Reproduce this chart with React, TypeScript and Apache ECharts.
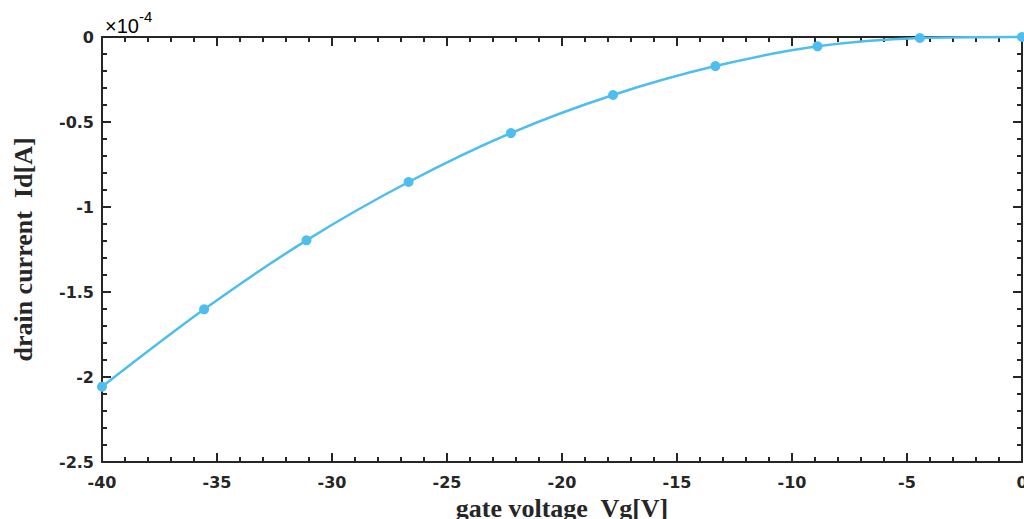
import React, { useEffect, useRef } from "react";
import * as echarts from "echarts";

// Gate voltage sweep (V) and measured drain current (units of 1e-4 A)
const gateVoltage = [-40, -35.56, -31.11, -26.67, -22.22, -17.78, -13.33, -8.89, -4.44, 0];
const drainCurrent = [-2.057, -1.602, -1.196, -0.853, -0.565, -0.341, -0.171, -0.055, -0.006, 0];

const xTicks = [-40, -35, -30, -25, -20, -15, -10, -5, 0];
const yTicks = [-2.5, -2, -1.5, -1, -0.5, 0];

const axisColor = "#262626";
const lineColor = "#4DBEEE";

export default function App() {
  const ref = useRef<HTMLDivElement>(null);

  useEffect(() => {
    if (!ref.current) return;
    const chart = echarts.init(ref.current, null, { renderer: "svg" });

    const tickFont = {
      fontFamily: "DejaVu Sans",
      fontWeight: "bold" as const,
      fontSize: 16,
      color: axisColor,
    };

    const baseAxis = {
      axisLine: { show: true, onZero: false, lineStyle: { color: axisColor, width: 2 } },
      axisTick: { show: true, inside: true, length: 9, lineStyle: { color: axisColor, width: 2 } },
      minorTick: { show: true, splitNumber: 5, length: 5, lineStyle: { color: axisColor, width: 2 } },
      splitLine: { show: false },
    };

    chart.setOption({
      animation: false,
      backgroundColor: "#ffffff",
      grid: {
        left: 102,
        right: 2,
        top: 37,
        bottom: 57,
        containLabel: false,
        outerBoundsMode: "none",
      },
      xAxis: [
        {
          type: "value",
          min: xTicks[0],
          max: xTicks[xTicks.length - 1],
          interval: 5,
          ...baseAxis,
          axisLabel: { ...tickFont, margin: 12 },
          name: "gate voltage  Vg[V]",
          nameLocation: "middle",
          nameGap: 33,
          nameTextStyle: {
            fontFamily: "Liberation Serif",
            fontWeight: "bold",
            fontSize: 26,
            color: axisColor,
          },
        },
        {
          type: "value",
          position: "top",
          min: xTicks[0],
          max: xTicks[xTicks.length - 1],
          interval: 5,
          ...baseAxis,
          axisLabel: { show: false },
        },
      ],
      yAxis: [
        {
          type: "value",
          min: yTicks[0],
          max: yTicks[yTicks.length - 1],
          interval: 0.5,
          ...baseAxis,
          axisLabel: {
            ...tickFont,
            margin: 8,
            formatter: (v: number) => String(v),
          },
          name: "drain current  Id[A]",
          nameLocation: "middle",
          nameGap: 66,
          nameTextStyle: {
            fontFamily: "Liberation Serif",
            fontWeight: "bold",
            fontSize: 26,
            color: axisColor,
          },
        },
        {
          type: "value",
          position: "right",
          min: yTicks[0],
          max: yTicks[yTicks.length - 1],
          interval: 0.5,
          ...baseAxis,
          axisLabel: { show: false },
        },
      ],
      graphic: [
        {
          type: "text",
          left: 105,
          top: 9,
          style: {
            text: "{a|×10}{b|-4}",
            rich: {
              a: { fontFamily: "Liberation Sans", fontSize: 20, color: "#404040", padding: [10, 0, 0, 0] },
              b: { fontFamily: "Liberation Sans", fontSize: 15, color: "#404040", padding: [0, 0, 8, 0] },
            },
          },
        },
      ],
      series: [
        {
          type: "line",
          data: gateVoltage.map((v, i) => [v, drainCurrent[i]]),
          smooth: 0.3,
          symbol: "circle",
          symbolSize: 10,
          lineStyle: { color: lineColor, width: 2.5 },
          itemStyle: { color: lineColor },
          clip: false,
        },
      ],
    });

    return () => chart.dispose();
  }, []);

  return (
    <div
      ref={ref}
      style={{ position: "fixed", left: 0, top: 0, width: 1024, height: 519, background: "#fff" }}
    />
  );
}
